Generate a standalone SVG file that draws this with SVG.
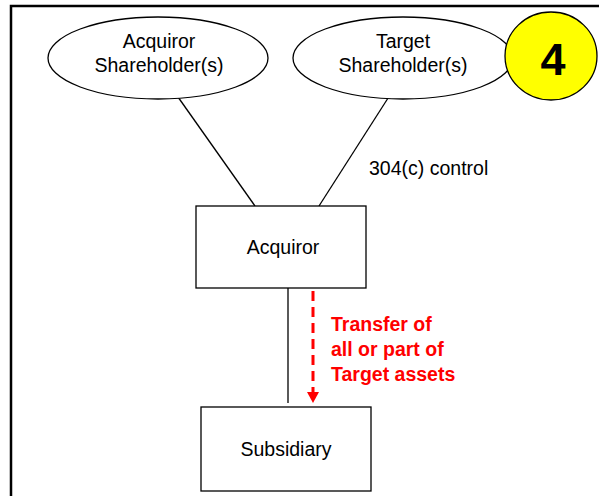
<svg xmlns="http://www.w3.org/2000/svg" width="599" height="496" viewBox="0 0 599 496">
<style>
text{font-family:"Liberation Sans",Arial,sans-serif;fill:#000}
.lbl{font-size:19.5px;text-anchor:middle}
.node{fill:#fff;stroke:#000;stroke-width:1.3}
.conn{stroke:#000;stroke-width:1.3;fill:none}
.red{fill:#ff0000;font-weight:bold;font-size:19.5px}
</style>
<rect width="599" height="496" fill="#fff"/>
<path d="M11,496 V6 H599" fill="none" stroke="#000" stroke-width="2.5"/>
<g id="connectors">
<line class="conn" x1="178" y1="97" x2="255" y2="206"/>
<line class="conn" x1="390" y1="95" x2="319" y2="206"/>
<line class="conn" x1="288" y1="288" x2="288" y2="403"/>
<line x1="313" y1="291" x2="313" y2="396" stroke="#ff0000" stroke-width="3" stroke-dasharray="10,6"/>
<path d="M307,392 L319,392 L313,403 Z" fill="#ff0000"/>
<text x="369" y="175" style="font-size:19.5px">304(c) control</text>
<text class="red" x="331" y="331">Transfer of</text>
<text class="red" x="331" y="356">all or part of</text>
<text class="red" x="331" y="381">Target assets</text>
</g>
<g id="acquiror-shareholders">
<ellipse class="node" cx="158" cy="58" rx="110" ry="41"/>
<text class="lbl" x="159" y="48">Acquiror</text>
<text class="lbl" x="159" y="72">Shareholder(s)</text>
</g>
<g id="target-shareholders">
<ellipse class="node" cx="403" cy="58" rx="110" ry="41"/>
<text class="lbl" x="403" y="48">Target</text>
<text class="lbl" x="403" y="72">Shareholder(s)</text>
</g>
<g id="badge">
<ellipse cx="551" cy="56" rx="46" ry="44" fill="#ffff00" stroke="#000" stroke-width="1.3"/>
<text x="553" y="75" style="font-size:45px;font-weight:bold;text-anchor:middle">4</text>
</g>
<g id="acquiror">
<rect class="node" x="196" y="206" width="170" height="82"/>
<text class="lbl" x="283" y="254">Acquiror</text>
</g>
<g id="subsidiary">
<rect class="node" x="201" y="407" width="170" height="84"/>
<text class="lbl" x="286" y="456">Subsidiary</text>
</g>
</svg>
